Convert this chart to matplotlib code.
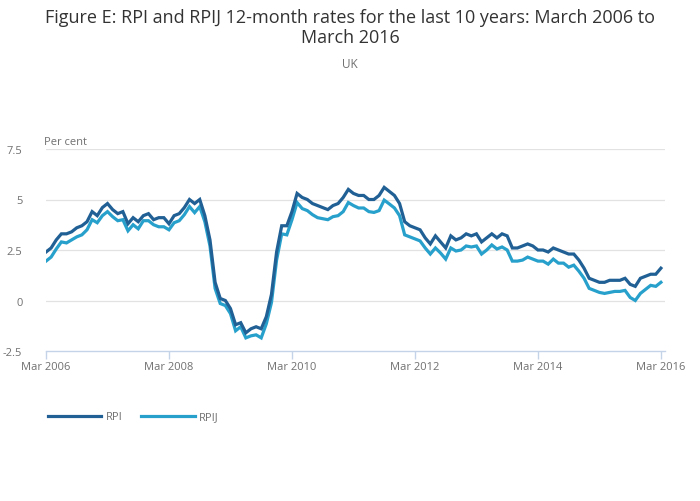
import numpy as np
import matplotlib
matplotlib.use("Agg")
import matplotlib.pyplot as plt

plt.rcParams['font.family'] = ['Open Sans', 'DejaVu Sans']

# 12-month rates, monthly from Mar 2006 to Mar 2016
rpi = [
    2.4, 2.6, 3.0, 3.3, 3.3, 3.4, 3.6, 3.7, 3.9, 4.4,                  # 2006
    4.2, 4.6, 4.8, 4.5, 4.3, 4.4, 3.8, 4.1, 3.9, 4.2, 4.3, 4.0,        # 2007
    4.1, 4.1, 3.8, 4.2, 4.3, 4.6, 5.0, 4.8, 5.0, 4.2, 3.0, 0.9,        # 2008
    0.1, 0.0, -0.4, -1.2, -1.1, -1.6, -1.4, -1.3, -1.4, -0.8, 0.3, 2.4,  # 2009
    3.7, 3.7, 4.4, 5.3, 5.1, 5.0, 4.8, 4.7, 4.6, 4.5, 4.7, 4.8,        # 2010
    5.1, 5.5, 5.3, 5.2, 5.2, 5.0, 5.0, 5.2, 5.6, 5.4, 5.2, 4.8,        # 2011
    3.9, 3.7, 3.6, 3.5, 3.1, 2.8, 3.2, 2.9, 2.6, 3.2, 3.0, 3.1,        # 2012
    3.3, 3.2, 3.3, 2.9, 3.1, 3.3, 3.1, 3.3, 3.2, 2.6, 2.6, 2.7,        # 2013
    2.8, 2.7, 2.5, 2.5, 2.4, 2.6, 2.5, 2.4, 2.3, 2.3, 2.0, 1.6,        # 2014
    1.1, 1.0, 0.9, 0.9, 1.0, 1.0, 1.0, 1.1, 0.8, 0.7, 1.1, 1.2,        # 2015
    1.3, 1.3, 1.6,                                                     # 2016
]
rpij = [
    1.95, 2.15, 2.55, 2.9, 2.85, 3.0, 3.15, 3.25, 3.5, 4.0,
    3.85, 4.2, 4.4, 4.15, 3.95, 4.0, 3.45, 3.75, 3.55, 3.95, 3.95, 3.75,
    3.65, 3.65, 3.5, 3.85, 3.95, 4.25, 4.65, 4.35, 4.65, 3.9, 2.7, 0.6,
    -0.15, -0.25, -0.65, -1.5, -1.3, -1.85, -1.75, -1.7, -1.85, -1.15, -0.1, 2.0,
    3.3, 3.25, 4.0, 4.85, 4.55, 4.45, 4.25, 4.1, 4.05, 4.0, 4.15, 4.2,
    4.4, 4.85, 4.7, 4.58, 4.58, 4.4, 4.36, 4.45, 4.97, 4.78, 4.58, 4.2,
    3.25, 3.15, 3.05, 2.95, 2.6, 2.3, 2.6, 2.35, 2.05, 2.6, 2.45, 2.5,
    2.7, 2.65, 2.7, 2.3, 2.5, 2.75, 2.55, 2.65, 2.5, 1.95, 1.95, 2.0,
    2.15, 2.05, 1.95, 1.95, 1.8, 2.05, 1.85, 1.85, 1.65, 1.75, 1.45, 1.1,
    0.6, 0.5, 0.4, 0.35, 0.4, 0.45, 0.45, 0.5, 0.15, 0.0, 0.35, 0.55,
    0.75, 0.7, 0.9,
]
tick_labels = ["Mar 2006", "Mar 2008", "Mar 2010", "Mar 2012", "Mar 2014", "Mar 2016"]
y_ticks = [-2.5, 0, 2.5, 5, 7.5]

months = np.arange(len(rpi))

fig = plt.figure(figsize=(7.0, 5.02), dpi=100)
ax = fig.add_axes([46 / 700, 1 - 352 / 502, (665 - 46) / 700, 202 / 502])

ax.plot(months, rpi, color="#206095", linewidth=2.3, label="RPI", zorder=3,
        solid_joinstyle="miter")
ax.plot(months, rpij, color="#27a0cc", linewidth=2.3, label="RPIJ", zorder=2,
        solid_joinstyle="miter")

ax.set_xlim(0, 120.8)
ax.set_ylim(-2.5, 7.5)
ax.set_yticks(y_ticks)
ax.set_yticklabels(["-2.5", "0", "2.5", "5", "7.5"])
ax.set_xticks(np.arange(0, 121, 24))
ax.set_xticklabels(tick_labels)

for y in y_ticks[1:]:
    ax.axhline(y, color="#e2e2e2", linewidth=0.9, zorder=1)

for s in ["top", "right", "left"]:
    ax.spines[s].set_visible(False)
ax.spines["bottom"].set_color("#c5d3e8")
ax.spines["bottom"].set_linewidth(1.0)
ax.tick_params(axis="x", colors="#c5d3e8", length=6, width=1.0, labelcolor="#707070",
               labelsize=8, pad=1)
ax.tick_params(axis="y", length=0, labelcolor="#707070", labelsize=8, pad=17)
ax.set_facecolor("none")

ax.text(-0.3, 7.62, "Per cent", fontsize=8, color="#707070", ha="left", va="bottom")

fig.text(0.5, 1 - 28 / 502, "Figure E: RPI and RPIJ 12-month rates for the last 10 years: March 2006 to\nMarch 2016",
         ha="center", va="center", fontsize=13, color="#333333", linespacing=1.1)
fig.text(0.5, 1 - 65 / 502, "UK", ha="center", va="center", fontsize=8.5, color="#707070")

leg = ax.legend(loc="center left", bbox_to_anchor=(38 / 700, 1 - 418 / 502),
                bbox_transform=fig.transFigure, ncol=2, frameon=False,
                handlelength=4.8, handletextpad=0.4, columnspacing=1.7,
                fontsize=8)
for t in leg.get_texts():
    t.set_color("#707070")
for h in leg.get_lines():
    h.set_linewidth(2.3)

fig.savefig("out.png", dpi=100, facecolor="white")
